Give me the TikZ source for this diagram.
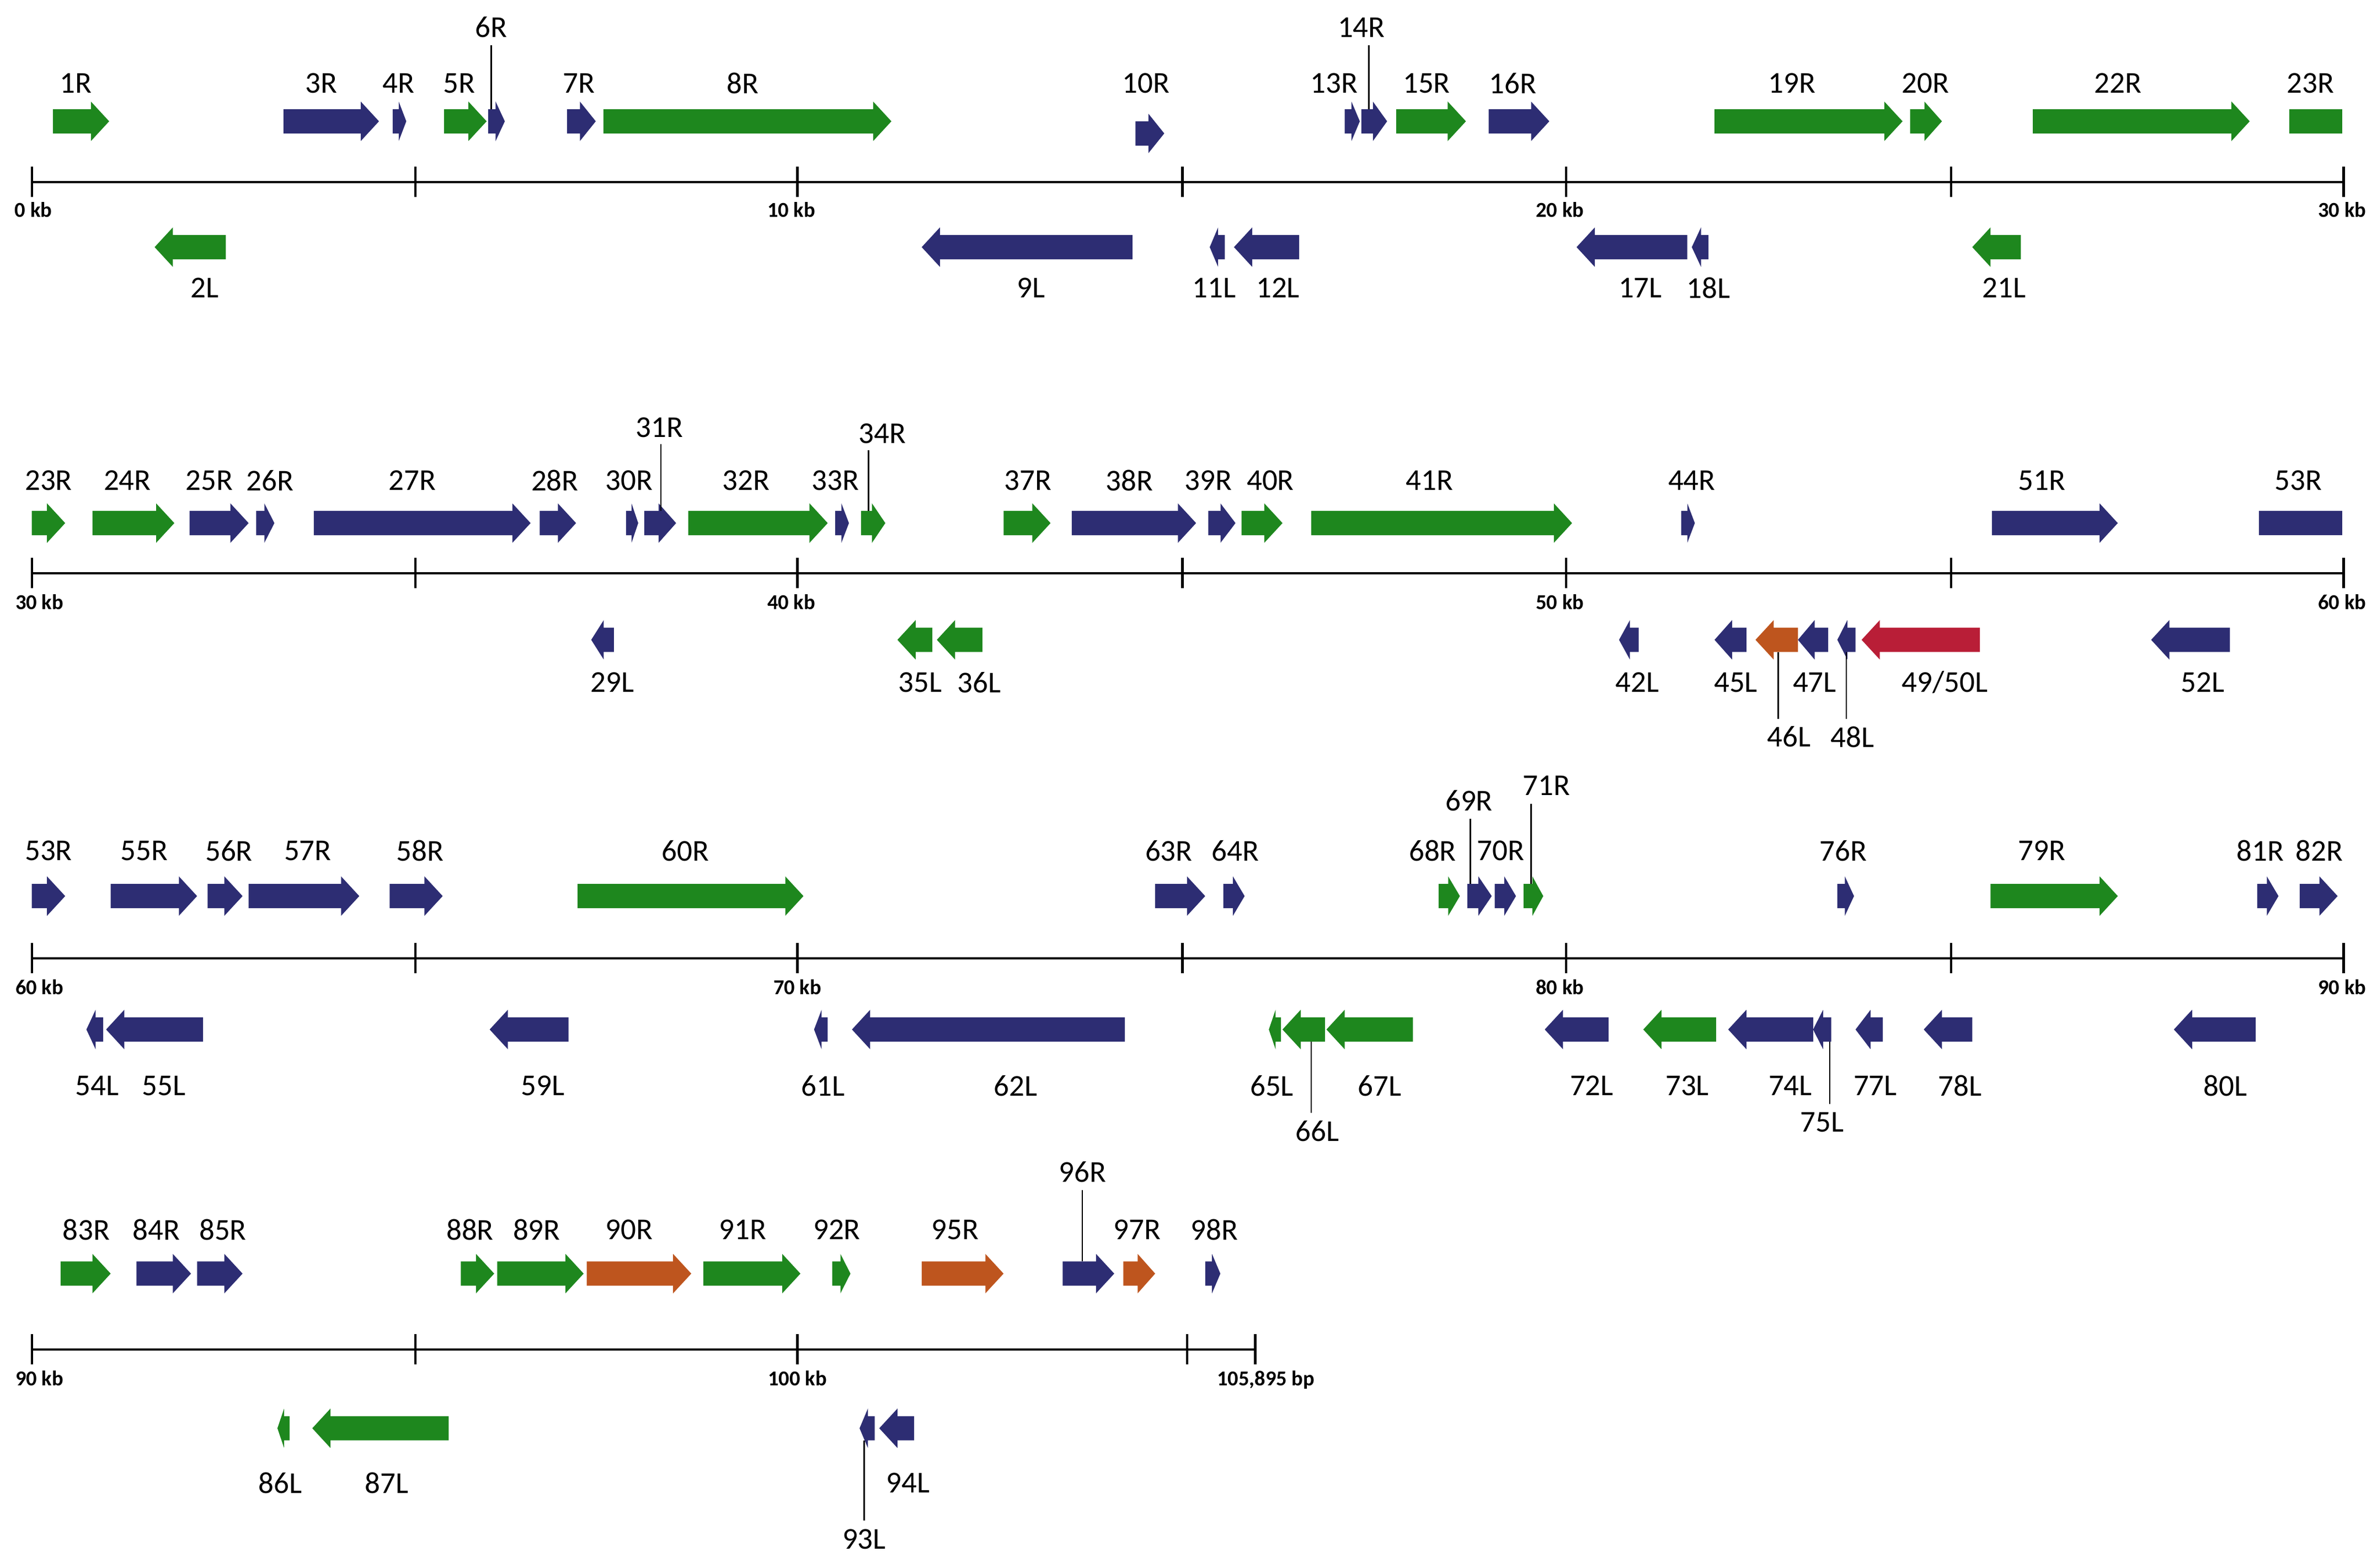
\documentclass[tikz,border=0pt]{standalone}
\usepackage{fontspec}
\setmainfont{Carlito}
\definecolor{gg}{RGB}{30,135,30}
\definecolor{bb}{RGB}{45,45,115}
\definecolor{oo}{RGB}{190,85,30}
\definecolor{rr}{RGB}{185,30,55}
\newcommand\gR[4]{\pgfmathsetmacro\hl{min(12,0.55*(#2-#1))}\fill[#4] (#1,#3-8) -- ({#2-\hl},#3-8) -- ({#2-\hl},#3-13) -- (#2,#3) -- ({#2-\hl},#3+13) -- ({#2-\hl},#3+8) -- (#1,#3+8) -- cycle;}
\newcommand\gL[4]{\pgfmathsetmacro\hl{min(12,0.55*(#2-#1))}\fill[#4] (#2,#3-8) -- ({#1+\hl},#3-8) -- ({#1+\hl},#3-13) -- (#1,#3) -- ({#1+\hl},#3+13) -- ({#1+\hl},#3+8) -- (#2,#3+8) -- cycle;}
\tikzset{lab/.style={font=\fontsize{20}{22}\selectfont,inner sep=0pt},
kb/.style={font=\fontsize{14}{16}\selectfont\bfseries,inner sep=0pt,anchor=north},
lead/.style={line width=0.9pt}}
\begin{document}
\begin{tikzpicture}[x=1pt,y=-1pt]
\useasboundingbox (0,0) rectangle (1568,1034);
% axes
\foreach \y/\e in {120/1546,378/1546,632/1546,890/828}{\draw[line width=1.6pt] (21,\y) -- (\e,\y);}
\foreach \y in {120,378,632}{\foreach \x in {21,274,526,780,1033,1287,1546}{\draw[line width=1.6pt] (\x,\y-10) -- (\x,\y+10);}}
\foreach \x in {21,274,526,783,828}{\draw[line width=1.6pt] (\x,880) -- (\x,900);}
\foreach \x/\y/\t in {22/133/0 kb,522/133/10 kb,1029/133/20 kb,1545/133/30 kb,
 26/392/30 kb,522/392/40 kb,1029/392/50 kb,1545/392/60 kb,
 26/646/60 kb,526/646/70 kb,1029/646/80 kb,1545/646/90 kb,
 26/904/90 kb,526/904/100 kb,835/904/{105,895 bp}}{\node[kb] (k\x-\y) at (\x,\y) {\t};}
% row 1
\foreach \a/\b/\c in {35/72/gg,187/250/bb,259/268/bb,293/321/gg,322/333/bb,374/393/bb,398/588/gg,887/897/bb,898/915/bb,921/967/gg,982/1022/bb,1131/1255/gg,1260/1281/gg,1341/1484/gg}{\gR{\a}{\b}{80}{\c}}
\gR{749}{768}{88}{bb}
\fill[gg] (1510,72) rectangle (1545,88);
\foreach \a/\b/\c in {102/149/gg,608/747/bb,798/808/bb,814/857/bb,1040/1113/bb,1116/1127/bb,1301/1333/gg}{\gL{\a}{\b}{163}{\c}}
\foreach \x/\y/\t in {50/55/1R,212/55/3R,263/55/4R,303/55/5R,324/18/6R,382/55/7R,490/55/8R,756/55/10R,880/55/13R,898/18/14R,941/55/15R,998/55/16R,1182/55/19R,1270/55/20R,1397/55/22R,1524/55/23R,
135/190/2L,680/190/9L,801/190/11L,843/190/12L,1082/190/17L,1127/190/18L,1322/190/21L}{\node[lab] (n\t) at (\x,\y) {\t};}
% row 2
\foreach \a/\b/\c in {21/43/gg,61/115/gg,125/164/bb,169/181/bb,207/350/bb,356/380/bb,413/421/bb,425/446/bb,454/546/gg,551/560/bb,568/584/gg,662/693/gg,707/789/bb,797/815/bb,819/846/gg,865/1037/gg,1109/1118/bb,1314/1397/bb}{\gR{\a}{\b}{345}{\c}}
\fill[bb] (1490,337) rectangle (1545,353);
\foreach \a/\b/\c in {390/405/bb,592/615/gg,618/648/gg,1068/1081/bb,1131/1152/bb,1158/1186/oo,1186/1206/bb,1212/1224/bb,1228/1306/rr,1419/1471/bb}{\gL{\a}{\b}{422}{\c}}
\foreach \x/\y/\t in {32/317/23R,84/317/24R,138/317/25R,178/317/26R,272/317/27R,366/317/28R,415/317/30R,435/282/31R,492/317/32R,551/317/33R,582/286/34R,678/317/37R,745/317/38R,797/317/39R,838/317/40R,943/317/41R,1116/317/44R,1347/317/51R,1516/317/53R,
404/450/29L,607/450/35L,646/450/36L,1080/450/42L,1145/450/45L,1180/486/46L,1197/450/47L,1222/486/48L,1453/450/52L}{\node[lab] (m\t) at (\x,\y) {\t};}
\node[lab] (m4950L) at (1283,450) {49/50L};
% row 3
\foreach \a/\b/\c in {21/43/bb,73/130/bb,137/160/bb,164/237/bb,257/292/bb,381/530/gg,762/795/bb,807/821/bb,949/963/gg,968/984/bb,986/1000/bb,1005/1018/gg,1212/1223/bb,1313/1397/gg,1489/1503/bb,1517/1542/bb}{\gR{\a}{\b}{591}{\c}}
\foreach \a/\b/\c in {57/68/bb,70/134/bb,323/375/bb,537/546/bb,562/742/bb,837/845/gg,846/874/gg,875/932/gg,1019/1061/bb,1084/1132/gg,1140/1196/bb,1196/1208/bb,1224/1242/bb,1269/1301/bb,1434/1488/bb}{\gL{\a}{\b}{679}{\c}}
\foreach \x/\y/\t in {32/561/53R,95/561/55R,151/561/56R,203/561/57R,277/561/58R,452/561/60R,771/561/63R,815/561/64R,945/561/68R,969/528/69R,990/561/70R,1020/518/71R,1216/561/76R,1347/561/79R,1491/561/81R,1530/561/82R,
64/716/54L,108/716/55L,358/716/59L,543/716/61L,670/716/62L,839/716/65L,869/746/66L,910/716/67L,1050/716/72L,1113/716/73L,1181/716/74L,1202/740/75L,1237/716/77L,1293/716/78L,1468/716/80L}{\node[lab] (p\t) at (\x,\y) {\t};}
% row 4
\foreach \a/\b/\c in {40/73/gg,90/126/bb,130/160/bb,304/326/gg,328/385/gg,387/456/oo,464/528/gg,549/561/gg,608/662/oo,701/735/bb,741/762/oo,795/805/bb}{\gR{\a}{\b}{840}{\c}}
\foreach \a/\b/\c in {183/191/gg,206/296/gg,567/577/bb,580/603/bb}{\gL{\a}{\b}{942}{\c}}
\foreach \x/\y/\t in {57/811/83R,103/811/84R,147/811/85R,310/811/88R,354/811/89R,415/811/90R,490/811/91R,552/811/92R,630/811/95R,714/773/96R,750/811/97R,801/811/98R,
185/978/86L,255/978/87L,570/1015/93L,599/978/94L}{\node[lab] (q\t) at (\x,\y) {\t};}
% leader lines
\foreach \x/\a/\b in {324/30/72,903/30/72,436/293/337,573/297/337,970/540/583,1010/530/583,1173/430/474,1218/430/474,865/687/734,1207/687/728,714/785/832,570/950/1003}{\draw[lead] (\x,\a) coordinate (s\x) -- (\x,\b) coordinate (t\x);}
\end{tikzpicture}
\end{document}
